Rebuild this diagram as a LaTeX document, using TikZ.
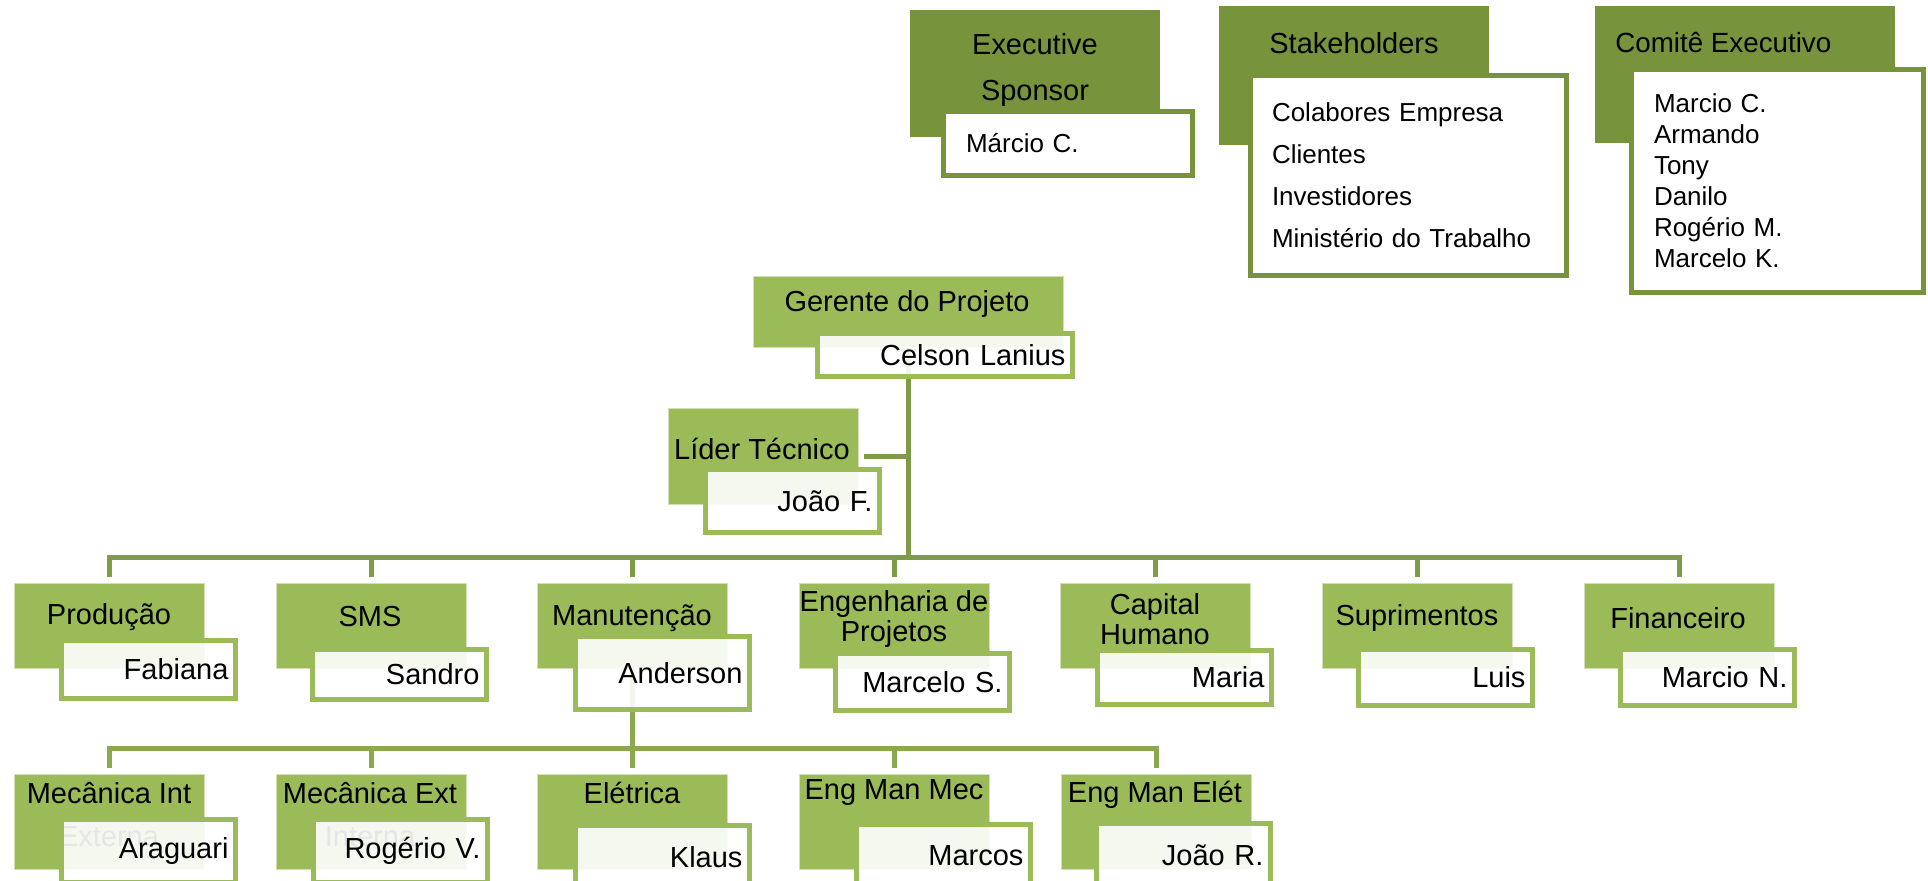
\documentclass[tikz,border=0pt]{standalone}
\usepackage{fontspec}
\setmainfont{Liberation Sans}

\definecolor{topgreen}{HTML}{77933C}
\definecolor{unitgreen}{HTML}{9BBB59}
\definecolor{linkgreen}{HTML}{7F9B48}
\definecolor{sublinkgreen}{HTML}{8BA84F}

\pgfdeclarelayer{background}
\pgfsetlayers{background,main}

\tikzset{
  headbox/.style={fill=topgreen, anchor=north west, inner sep=0pt},
  listbox/.style={fill=white, draw=topgreen, line width=0.1cm, anchor=north west, inner ysep=0pt, align=left},
  unitbox/.style={fill=unitgreen, draw=unitgreen!45!white, line width=0.02cm, anchor=north west, inner sep=0pt, minimum width=3.8cm, minimum height=1.7cm},
  subunitbox/.style={unitbox, minimum height=1.9cm},
  personbox/.style={fill=white, fill opacity=0.9, text opacity=1, draw=unitgreen, line width=0.1cm, anchor=north west, inner xsep=0.14cm, inner ysep=0pt, text width=3.2cm, align=right},
  unittext/.style={align=center, font=\fontsize{16.5}{17}\selectfont},
  link/.style={draw=linkgreen, line width=0.1cm},
  sublink/.style={draw=sublinkgreen, line width=0.1cm},
}

\begin{document}
\begin{tikzpicture}[x=0.02cm, y=-0.02cm, font=\fontsize{16.5}{19.8}\selectfont]
  \useasboundingbox (0,0) rectangle (1928,880);
  \clip (0,0) rectangle (1928,880);

  % top row
  \node[headbox, minimum width=5cm, minimum height=2.54cm] (sponsor) at (910,10) {};
  \node[align=center, font=\fontsize{16.5}{26.7}\selectfont] (sponsorT) at (1035,70) {Executive\\Sponsor};
  \node[listbox, inner xsep=0.45cm, minimum height=1.28cm, text width=4.08cm, font=\fontsize{14.8}{17.8}\selectfont] (sponsorN) at (941,109) {Márcio C.};

  \node[headbox, minimum width=5.4cm, minimum height=2.78cm] (stake) at (1219,6) {};
  \node (stakeT) at (1354,43) {Stakeholders};
  \node[listbox, inner xsep=0.43cm, minimum height=4cm, text width=5.46cm, font=\fontsize{14.8}{23.9}\selectfont] (stakeN) at (1248,73) {Colabores Empresa\\Clientes\\Investidores\\Ministério do Trabalho};

  \node[headbox, minimum width=6cm, minimum height=2.74cm] (comite) at (1595,6) {};
  \node[anchor=west, inner xsep=0pt, font=\fontsize{15.8}{19}\selectfont] (comiteT) at (1615,43) {Comitê Executivo};
  \node[listbox, inner xsep=0.45cm, minimum height=4.46cm, text width=4.94cm, font=\fontsize{14.8}{17.6}\selectfont] (comiteN) at (1629,67) {Marcio C.\\Armando\\Tony\\Danilo\\Rogério M.\\Marcelo K.};

  % project manager and technical lead
  \node[unitbox, minimum width=6.2cm, minimum height=1.42cm] (gerente) at (753,276) {};
  \node (gerenteT) at (907,304) {Gerente do Projeto};
  \node[personbox, minimum height=0.86cm, text width=4.82cm] (gerenteN) at (815,331) {Celson Lanius};

  \node[unitbox, minimum height=1.92cm] (lider) at (668,408) {};
  \node (liderT) at (762,449) {Líder Técnico};
  \node[personbox, minimum height=1.26cm] (liderN) at (703,467) {João F.};

  % areas
  \node[unitbox] (prod) at (14,583) {};
  \node[unitbox] (sms) at (276,583) {};
  \node[unitbox] (manut) at (537,583) {};
  \node[unitbox] (eng) at (799,583) {};
  \node[unitbox] (cap) at (1060,583) {};
  \node[unitbox] (sup) at (1322,583) {};
  \node[unitbox] (fin) at (1584,583) {};

  \node[unittext] (prodT) at (109,617) {Produção};
  \node[unittext] (smsT) at (370,617) {SMS};
  \node[unittext] (manutT) at (632,618) {Manutenção};
  \node[unittext] (engT) at (894,619) {Engenharia de\\Projetos};
  \node[unittext] (capT) at (1155,619) {Capital\\Humano};
  \node[unittext] (supT) at (1417,618) {Suprimentos};
  \node[unittext] (finT) at (1678,618) {Financeiro};

  \node[personbox, minimum height=1.16cm] (prodN) at (59,638) {Fabiana};
  \node[personbox, minimum height=1cm] (smsN) at (310,647) {Sandro};
  \node[personbox, minimum height=1.46cm] (manutN) at (573,634) {Anderson};
  \node[personbox, minimum height=1.14cm] (engN) at (833,651) {Marcelo S.};
  \node[personbox, minimum height=1.08cm] (capN) at (1095,648) {Maria};
  \node[personbox, minimum height=1.12cm] (supN) at (1356,647) {Luis};
  \node[personbox, minimum height=1.12cm] (finN) at (1618,647) {Marcio N.};

  % maintenance teams
  \node[subunitbox] (mecint) at (14,774) {};
  \node[subunitbox] (mecext) at (276,774) {};
  \node[subunitbox] (elet) at (537,774) {};
  \node[subunitbox] (engmec) at (799,774) {};
  \node[subunitbox] (engel) at (1061,774) {};

  \node[unittext, font=\fontsize{16.5}{24.4}\selectfont] (mecintT) at (109,815) {Mecânica Int\\Externa};
  \node[unittext, font=\fontsize{16.5}{24.4}\selectfont] (mecextT) at (370,815) {Mecânica Ext\\Interna};
  \node[unittext] (eletT) at (632,793) {Elétrica};
  \node[unittext] (engmecT) at (894,793) {Eng Man Mec};
  \node[unittext] (engelT) at (1155,795) {Eng Man Elét};

  \node[personbox, minimum height=1.26cm] (mecintN) at (59,817) {Araguari};
  \node[personbox, minimum height=1.26cm] (mecextN) at (311,817) {Rogério V.};
  \node[personbox, minimum height=1.26cm] (eletN) at (573,823) {Klaus};
  \node[personbox, minimum height=1.26cm] (engmecN) at (854,822) {Marcos};
  \node[personbox, minimum height=1.26cm] (engelN) at (1094,821) {João R.};

  % connectors
  \begin{pgfonlayer}{background}
    \coordinate (hub) at (908,557);
    \coordinate (subhub) at (632,748);
    \draw[link] (gerente.south) -- (gerente.south |- hub);
    \draw[link, shorten <=0.1cm] (lider.east) -- (lider.east -| gerente.south);
    \draw[link, shorten <=0.12cm, shorten >=0.12cm] (prod.north) -- (prod.north |- hub) -- (fin.north |- hub) -- (fin.north);
    \draw[link, shorten >=0.12cm] (sms.north |- hub) -- (sms.north);
    \draw[link, shorten >=0.12cm] (manut.north |- hub) -- (manut.north);
    \draw[link, shorten >=0.12cm] (eng.north |- hub) -- (eng.north);
    \draw[link, shorten >=0.12cm] (cap.north |- hub) -- (cap.north);
    \draw[link, shorten >=0.12cm] (sup.north |- hub) -- (sup.north);

    \draw[sublink] (manut.south) -- (manut.south |- subhub);
    \draw[sublink, shorten <=0.12cm, shorten >=0.12cm] (mecint.north) -- (mecint.north |- subhub) -- (engel.north |- subhub) -- (engel.north);
    \draw[sublink, shorten >=0.12cm] (mecext.north |- subhub) -- (mecext.north);
    \draw[sublink, shorten >=0.12cm] (elet.north |- subhub) -- (elet.north);
    \draw[sublink, shorten >=0.12cm] (engmec.north |- subhub) -- (engmec.north);
  \end{pgfonlayer}
\end{tikzpicture}
\end{document}
